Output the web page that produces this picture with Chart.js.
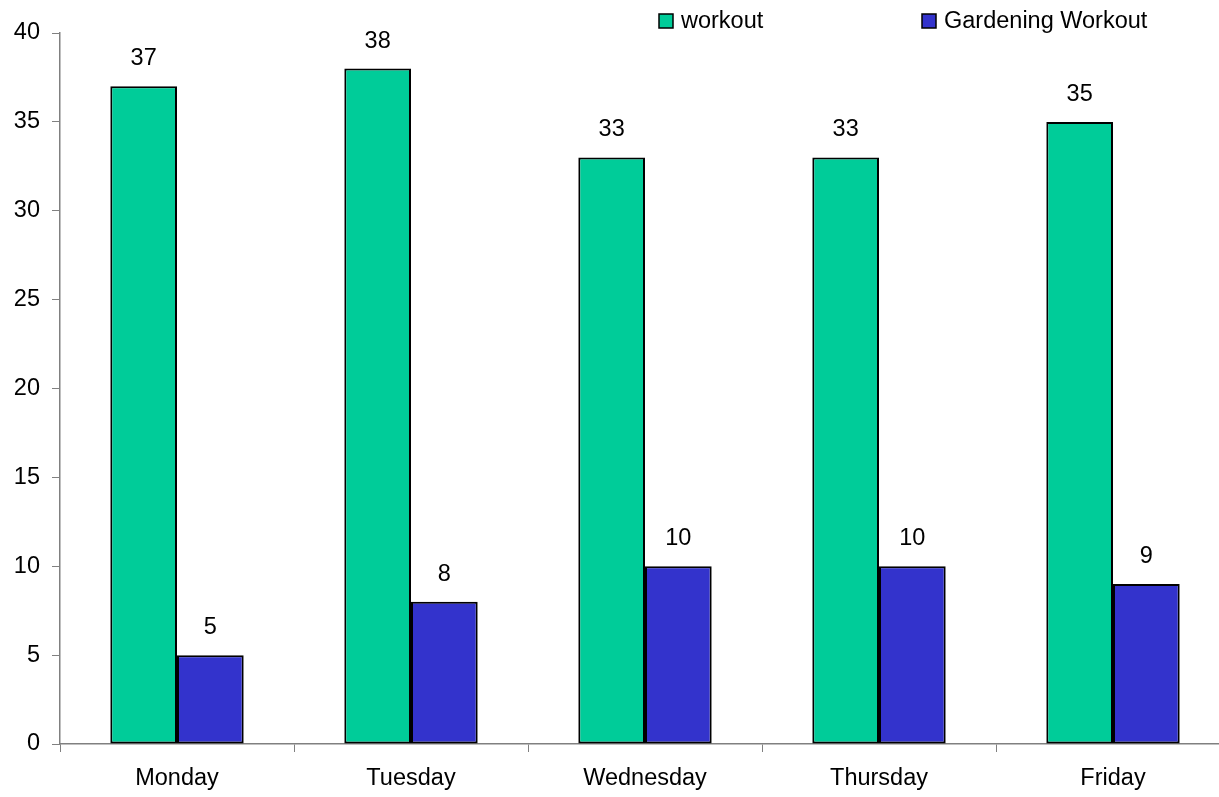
<!DOCTYPE html>
<html>
<head>
<meta charset="utf-8">
<script src="https://cdn.jsdelivr.net/npm/chart.js@4.4.1/dist/chart.umd.min.js"></script>
<style>
  html, body { margin: 0; padding: 0; background: #fff; overflow: hidden; }
  #wrap { width: 1232px; height: 797px; }
</style>
</head>
<body>
<div id="wrap"><canvas id="chart" width="1232" height="797"></canvas></div>
<script>
// dados do gráfico
const dias = ['Monday', 'Tuesday', 'Wednesday', 'Thursday', 'Friday'];
const workout = [37, 38, 33, 33, 35];
const gardening = [5, 8, 10, 10, 9];
const nomesSeries = ['workout', 'Gardening Workout'];
const coresSeries = ['#00CC99', '#3333CC'];
const ticksY = [0, 5, 10, 15, 20, 25, 30, 35, 40];

const fonte = '"Liberation Sans", Arial, sans-serif';
const tamFonte = 23.5;

// rótulos de valor acima das barras
const rotulos = {
  id: 'rotulos',
  afterDatasetsDraw(chart) {
    const ctx = chart.ctx;
    ctx.save();
    ctx.font = tamFonte + 'px ' + fonte;
    ctx.fillStyle = '#000';
    ctx.textAlign = 'center';
    ctx.textBaseline = 'alphabetic';
    chart.data.datasets.forEach((ds, i) => {
      chart.getDatasetMeta(i).data.forEach((bar, j) => {
        ctx.fillText(ds.data[j], bar.x, bar.y - 21);
      });
    });
    ctx.restore();
  }
};

// legenda posicionada como no original
const legenda = {
  id: 'legenda',
  afterDraw(chart) {
    const ctx = chart.ctx;
    const posX = [659, 922];
    ctx.save();
    ctx.font = tamFonte + 'px ' + fonte;
    ctx.textBaseline = 'alphabetic';
    chart.data.datasets.forEach((ds, i) => {
      ctx.fillStyle = ds.backgroundColor;
      ctx.fillRect(posX[i], 14, 14, 14);
      ctx.strokeStyle = '#000';
      ctx.lineWidth = 1.5;
      ctx.strokeRect(posX[i], 14, 14, 14);
      ctx.fillStyle = '#000';
      ctx.fillText(ds.label, posX[i] + 22, 28);
    });
    ctx.restore();
  }
};

new Chart(document.getElementById('chart').getContext('2d'), {
  type: 'bar',
  data: {
    labels: dias,
    datasets: [
      { label: nomesSeries[0], data: workout, backgroundColor: coresSeries[0] },
      { label: nomesSeries[1], data: gardening, backgroundColor: coresSeries[1] }
    ].map(ds => Object.assign(ds, {
      borderColor: '#000', borderWidth: 2, borderSkipped: false,
      categoryPercentage: 0.57, barPercentage: 1.0
    }))
  },
  options: {
    responsive: false,
    animation: false,
    layout: { padding: { top: 33, right: 2, left: 0, bottom: 0 } },
    plugins: { legend: { display: false }, tooltip: { enabled: false } },
    scales: {
      x: {
        afterFit(s) { s.height = 53; },
        grid: { display: true, drawOnChartArea: false, drawTicks: true, tickLength: 8, color: '#808080', offset: true },
        border: { display: true, color: '#808080', width: 1.5 },
        ticks: { color: '#000', font: { family: fonte, size: tamFonte }, padding: 12 }
      },
      y: {
        min: 0, max: 40,
        afterFit(s) { s.width = 60; },
        afterBuildTicks(s) { s.ticks = ticksY.map(v => ({ value: v })); },
        grid: { display: true, drawOnChartArea: false, drawTicks: true, tickLength: 8, color: '#808080' },
        border: { display: true, color: '#808080', width: 1.5 },
        ticks: { color: '#000', font: { family: fonte, size: tamFonte }, padding: 12 }
      }
    }
  },
  plugins: [rotulos, legenda]
});
</script>
</body>
</html>
